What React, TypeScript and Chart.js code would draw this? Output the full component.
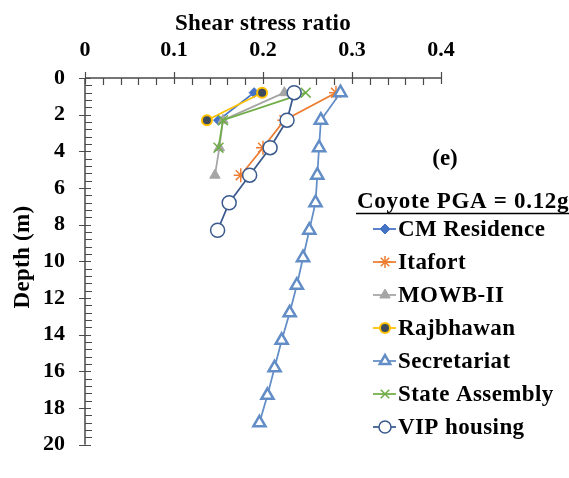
import { useEffect, useRef } from "react";
import { Chart, registerables } from "chart.js";
import { drawPoint } from "chart.js/helpers";

Chart.register(...registerables);

// Depths (m) at which the shear stress ratio was computed
const depths = [0.8, 2.3, 3.8, 5.3, 6.8, 8.3, 9.8, 11.3, 12.8, 14.3, 15.8, 17.3, 18.8];

const cmResidence = [0.19, 0.15];
const itafort = [0.282, 0.224, 0.2, 0.175];
const mowb2 = [0.224, 0.155, 0.151, 0.146];
const rajbhawan = [0.199, 0.137];
const secretariat = [0.287, 0.265, 0.263, 0.261, 0.259, 0.252, 0.245, 0.238, 0.23, 0.221, 0.213, 0.205, 0.196];
const stateAssembly = [0.248, 0.155, 0.15];
const vipHousing = [0.235, 0.227, 0.208, 0.185, 0.162, 0.149];

const siteNames = ["CM Residence", "Itafort", "MOWB-II", "Rajbhawan", "Secretariat", "State Assembly", "VIP housing"];
const siteValues = [cmResidence, itafort, mowb2, rajbhawan, secretariat, stateAssembly, vipHousing];

const xTitle = "Shear stress ratio";
const yTitle = "Depth (m)";
const panelTag = "(e)";
const eventLabel = "Coyote PGA = 0.12g";

const FONT = "'Liberation Serif', 'Times New Roman', serif";
const AXIS_COLOR = "#4a4a4a";

type Look = {
  color: string;
  pointStyle: any;
  radius: number;
  fill: string;
  borderWidth: number;
};

const looks: Look[] = [
  { color: "#4472C4", pointStyle: "rectRot", radius: 5, fill: "#4472C4", borderWidth: 1 },
  { color: "#ED7D31", pointStyle: "star", radius: 7, fill: "#ED7D31", borderWidth: 1.5 },
  { color: "#A5A5A5", pointStyle: "triangle", radius: 6, fill: "#A5A5A5", borderWidth: 1 },
  { color: "#FFC000", pointStyle: "circle", radius: 5, fill: "#3C4A5C", borderWidth: 2 },
  { color: "#638DC6", pointStyle: "triangle", radius: 7, fill: "#ffffff", borderWidth: 2.5 },
  { color: "#70AD47", pointStyle: "crossRot", radius: 7, fill: "#70AD47", borderWidth: 1.5 },
  { color: "#3A5A8E", pointStyle: "circle", radius: 7, fill: "#ffffff", borderWidth: 1.5 },
];

// Axis lines with Excel-style crossing major ticks and inside minor ticks
const axesPlugin = {
  id: "depthAxes",
  beforeDatasetsDraw(chart: any) {
    const { ctx, chartArea, scales } = chart;
    const x = scales.x;
    const y = scales.y;
    ctx.save();
    ctx.strokeStyle = AXIS_COLOR;
    ctx.lineWidth = 1.5;
    ctx.beginPath();
    ctx.moveTo(chartArea.left, chartArea.top);
    ctx.lineTo(chartArea.right, chartArea.top);
    ctx.moveTo(chartArea.left, chartArea.top);
    ctx.lineTo(chartArea.left, chartArea.bottom);
    ctx.stroke();
    ctx.lineWidth = 1.2;
    ctx.beginPath();
    for (let k = 0; k <= 20; k++) {
      const px = Math.round(x.getPixelForValue(k * 0.02)) + 0.5;
      const major = k % 5 === 0;
      ctx.moveTo(px, chartArea.top - (major ? 6 : 0));
      ctx.lineTo(px, chartArea.top + (major ? 6 : 7));
    }
    for (let k = 0; k <= 50; k++) {
      const py = Math.round(y.getPixelForValue(k * 0.4)) + 0.5;
      const major = k % 5 === 0;
      ctx.moveTo(chartArea.left - (major ? 6 : 0), py);
      ctx.lineTo(chartArea.left + (major ? 6 : 7), py);
    }
    ctx.stroke();
    ctx.restore();
  },
  afterDraw(chart: any) {
    const { ctx, chartArea } = chart;
    ctx.save();
    ctx.fillStyle = "#000";
    ctx.textAlign = "center";
    ctx.textBaseline = "middle";
    ctx.font = `bold 23px ${FONT}`;
    ctx.letterSpacing = "0.3px";
    ctx.fillText(xTitle, (chartArea.left + chartArea.right) / 2, 24);
    ctx.save();
    ctx.translate(23, 257);
    ctx.rotate(-Math.PI / 2);
    ctx.fillText(yTitle, 0, 0);
    ctx.restore();

    ctx.letterSpacing = "0px";
    ctx.fillText(panelTag, 445, 159);

    ctx.textAlign = "left";
    ctx.letterSpacing = "0.7px";
    const lw = ctx.measureText(eventLabel).width;
    ctx.fillText(eventLabel, 357, 202);
    ctx.strokeStyle = "#000";
    ctx.lineWidth = 1.5;
    ctx.beginPath();
    ctx.moveTo(356, 213.5);
    ctx.lineTo(357 + lw, 213.5);
    ctx.stroke();

    // legend entries: line sample with marker, then the site name
    ctx.letterSpacing = "0.4px";
    chart.data.datasets.forEach((ds: any, i: number) => {
      const ly = 229 + i * 33;
      const lk = looks[i];
      ctx.strokeStyle = lk.color;
      ctx.lineWidth = 1.75;
      ctx.beginPath();
      ctx.moveTo(373, ly);
      ctx.lineTo(396, ly);
      ctx.stroke();
      ctx.fillStyle = lk.fill;
      ctx.strokeStyle = lk.color;
      ctx.lineWidth = lk.borderWidth;
      drawPoint(ctx, { pointStyle: lk.pointStyle, radius: Math.min(lk.radius, 6), rotation: 0, borderWidth: lk.borderWidth } as any, 385, ly);
      ctx.fillStyle = "#000";
      ctx.fillText(ds.label, 398, ly + 1);
    });
    ctx.restore();
  },
};

export default function App() {
  const canvasRef = useRef<HTMLCanvasElement | null>(null);

  useEffect(() => {
    const canvas = canvasRef.current;
    if (!canvas) return;
    const datasets = siteNames.map((name, i) => {
      const lk = looks[i];
      return {
        label: name,
        data: siteValues[i].map((v, j) => ({ x: v, y: depths[j] })),
        showLine: true,
        borderColor: lk.color,
        backgroundColor: lk.fill,
        borderWidth: 1.75,
        pointStyle: lk.pointStyle,
        pointRadius: lk.radius,
        pointBorderWidth: lk.borderWidth,
        pointBorderColor: lk.color,
        pointBackgroundColor: lk.fill,
        tension: 0,
        order: siteNames.length - i,
      };
    });

    const chart = new Chart(canvas, {
      type: "scatter",
      data: { datasets },
      options: {
        animation: false,
        responsive: false,
        devicePixelRatio: 1,
        layout: { padding: { top: 0, left: 0, right: 128, bottom: 12 } },
        plugins: { legend: { display: false }, tooltip: { enabled: false } },
        scales: {
          x: {
            type: "linear",
            position: "top",
            min: 0,
            max: 0.4,
            grid: { display: true, drawOnChartArea: false, drawTicks: false },
            border: { display: false },
            ticks: {
              stepSize: 0.1,
              padding: 14,
              color: "#000",
              font: { family: FONT, size: 22, weight: "bold" },
              maxRotation: 0,
            },
            afterFit: (scale: any) => {
              scale.height = 78;
            },
          },
          y: {
            type: "linear",
            reverse: true,
            min: 0,
            max: 20,
            grid: { display: true, drawOnChartArea: false, drawTicks: false },
            border: { display: false },
            ticks: {
              stepSize: 2,
              padding: 20,
              color: "#000",
              font: { family: FONT, size: 22, weight: "bold" },
            },
            afterFit: (scale: any) => {
              scale.width = 85;
            },
          },
        },
      },
      plugins: [axesPlugin],
    } as any);
    return () => chart.destroy();
  }, []);

  return (
    <div style={{ position: "absolute", left: 0, top: 0, width: 569, height: 478, background: "#fff" }}>
      <canvas ref={canvasRef} width={569} height={478} />
    </div>
  );
}
